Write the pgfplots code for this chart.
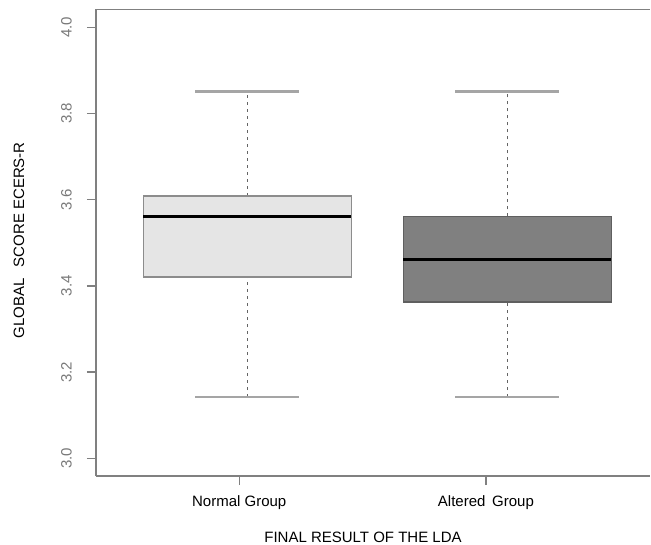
\documentclass[border=0pt]{standalone}
\usepackage{fontspec}
\setmainfont{Liberation Sans}
\usepackage{pgfplots}
\pgfplotsset{compat=1.18}
\definecolor{axiscol}{RGB}{128,128,128}
\definecolor{ticklab}{RGB}{120,120,120}
\definecolor{fillA}{RGB}{229,229,229}
\definecolor{fillB}{RGB}{128,128,128}
\definecolor{borderA}{RGB}{140,140,140}
\definecolor{borderB}{RGB}{95,95,95}
\definecolor{whiskcol}{RGB}{100,100,100}
\definecolor{capcol}{RGB}{165,165,165}
\begin{document}
\begin{tikzpicture}
\begin{axis}[
  name=ax,
  at={(0,0)}, anchor=south west,
  scale only axis,
  width=554pt, height=466.5pt,
  xmin=0.418, xmax=2.549,
  ymin=2.959, ymax=4.041,
  axis x line*=bottom, axis y line*=left,
  axis line style={axiscol, line width=1.3pt, -},
  tick align=outside,
  major tick length=9pt,
  tick style={axiscol, line width=1.3pt},
  xtick={0.969,1.918},
  xticklabels={Normal Group, Altered\hspace{0.45em}Group},
  ytick={3.0,3.2,3.4,3.6,3.8,4.0},
  xticklabel style={font=\fontsize{15}{18}\selectfont, text=black, inner sep=0pt, anchor=north},
  xticklabel shift=10pt,
  yticklabel style={font=\fontsize{15}{18}\selectfont, text=ticklab, inner sep=0pt, rotate=90, anchor=south,
    /pgf/number format/.cd, fixed, fixed zerofill, precision=1, assume math mode=true},
  yticklabel shift=15pt,
  xlabel={FINAL RESULT OF THE LDA},
  xlabel style={at={(axis description cs:0.482,-0.131)}, anchor=center, inner sep=0pt, font=\fontsize{15}{18}\selectfont},
  ylabel={GLOBAL\hspace{0.75em}SCORE ECERS-R},
  ylabel style={at={(axis description cs:-0.139,0.505)}, anchor=center, inner sep=0pt, font=\fontsize{15}{18}\selectfont},
  clip=false,
]
% --- Normal Group (position 1): whiskers 3.142..3.851, box 3.421..3.609, median 3.561
\addplot[whiskcol, line width=0.9pt, dash pattern=on 3pt off 4pt] coordinates {(1,3.609) (1,3.851)};
\addplot[whiskcol, line width=0.9pt, dash pattern=on 3pt off 4pt] coordinates {(1,3.142) (1,3.421)};
\addplot[capcol, line width=2.4pt] coordinates {(0.8,3.851) (1.2,3.851)};
\addplot[capcol, line width=2.4pt] coordinates {(0.8,3.142) (1.2,3.142)};
\addplot[draw=borderA, fill=fillA, line width=1.5pt] coordinates {(0.6,3.421) (1.4,3.421) (1.4,3.609) (0.6,3.609)} -- cycle;
\addplot[black, line width=2.6pt] coordinates {(0.6,3.561) (1.4,3.561)};
% --- Altered Group (position 2): whiskers 3.142..3.851, box 3.363..3.561, median 3.461
\addplot[whiskcol, line width=0.9pt, dash pattern=on 3pt off 4pt] coordinates {(2,3.561) (2,3.851)};
\addplot[whiskcol, line width=0.9pt, dash pattern=on 3pt off 4pt] coordinates {(2,3.142) (2,3.363)};
\addplot[capcol, line width=2.4pt] coordinates {(1.8,3.851) (2.2,3.851)};
\addplot[capcol, line width=2.4pt] coordinates {(1.8,3.142) (2.2,3.142)};
\addplot[draw=borderB, fill=fillB, line width=1.5pt] coordinates {(1.6,3.363) (2.4,3.363) (2.4,3.561) (1.6,3.561)} -- cycle;
\addplot[black, line width=2.6pt] coordinates {(1.6,3.461) (2.4,3.461)};
\draw[axiscol, line width=1.3pt] (rel axis cs:0,1) -- (rel axis cs:1,1);
\end{axis}
\pgfresetboundingbox
\path (ax.south west) ++(-96pt,-68pt) rectangle ++(651pt,544pt);
\end{tikzpicture}
\end{document}
